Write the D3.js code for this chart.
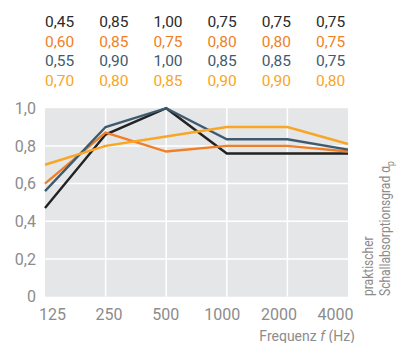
<!DOCTYPE html>
<html><head><meta charset="utf-8">
<script src="https://cdn.jsdelivr.net/npm/d3@7"></script>
<style>
html,body{margin:0;padding:0;background:#fff;}
svg{display:block;font-family:Roboto, "Liberation Sans", sans-serif;}
</style></head>
<body>
<svg id="chart" width="401" height="343"></svg>
<script>
// Data
const frequencies = ["125", "250", "500", "1000", "2000", "4000"];
const tableBlack  = ["0,45", "0,85", "1,00", "0,75", "0,75", "0,75"];
const tableOrange = ["0,60", "0,85", "0,75", "0,80", "0,80", "0,75"];
const tableBlue   = ["0,55", "0,90", "1,00", "0,85", "0,85", "0,75"];
const tableYellow = ["0,70", "0,80", "0,85", "0,90", "0,90", "0,80"];
// plotted curves
const seriesBlack  = [0.47, 0.86, 1.00, 0.76, 0.76, 0.76];
const seriesOrange = [0.60, 0.87, 0.77, 0.80, 0.80, 0.77];
const seriesBlue   = [0.56, 0.90, 1.00, 0.835, 0.835, 0.78];
const seriesYellow = [0.70, 0.80, 0.85, 0.90, 0.90, 0.81];
const yTicks = [0, 0.2, 0.4, 0.6, 0.8, 1.0];
const yTickLabels = ["0", "0,2", "0,4", "0,6", "0,8", "1,0"];

const colors = {black: "#222222", orange: "#f07f26", blue: "#3e5b6f", yellow: "#f8a623"};

const svg = d3.select("#chart");
const x = d3.scalePoint().domain(frequencies).range([45, 348]);
const xLab = d3.scalePoint().domain(frequencies).range([52.5, 335.5]);
const y = d3.scaleLinear().domain([0, 1]).range([296.7, 108.2]);

// background
svg.append("rect").attr("x", x("125")).attr("y", y(1))
  .attr("width", x("4000") - x("125")).attr("height", y(0) - y(1))
  .attr("fill", "#e5e6e8");

// gridlines
svg.append("g").selectAll("line").data(yTicks.filter(d => d > 0 && d < 1)).join("line")
  .attr("x1", x("125")).attr("x2", x("4000"))
  .attr("y1", d => y(d)).attr("y2", d => y(d))
  .attr("stroke", "#fff").attr("stroke-width", 1.5);
svg.append("g").selectAll("line").data(frequencies.slice(1, -1)).join("line")
  .attr("x1", d => x(d)).attr("x2", d => x(d))
  .attr("y1", y(0)).attr("y2", y(1))
  .attr("stroke", "#fff").attr("stroke-width", 1.5);

// y tick labels
svg.append("g").selectAll("text").data(yTicks).join("text")
  .attr("x", 36).attr("y", d => y(d)).attr("dy", "0.36em")
  .attr("text-anchor", "end").attr("fill", "#8c8c8c").attr("font-size", 16)
  .text((d, i) => yTickLabels[i]);

// x tick labels
svg.append("g").selectAll("text").data(frequencies).join("text")
  .attr("x", d => xLab(d)).attr("y", 320)
  .attr("text-anchor", "middle").attr("fill", "#8c8c8c").attr("font-size", 16)
  .text(d => d);

// x axis title
const xt = svg.append("text").attr("x", 355).attr("y", 341)
  .attr("text-anchor", "end").attr("fill", "#8c8c8c").attr("font-size", 14);
xt.append("tspan").text("Frequenz ");
xt.append("tspan").attr("font-style", "italic").text("f");
xt.append("tspan").text(" (Hz)");

// right axis title
const rt = svg.append("text").attr("transform", "translate(373,296) rotate(-90) scale(0.86,1)")
  .attr("fill", "#8c8c8c").attr("font-size", 14);
rt.append("tspan").attr("x", 0).attr("y", 0).text("praktischer");
rt.append("tspan").attr("x", 0).attr("y", 17).text("Schallabsorptionsgrad α");
rt.append("tspan").attr("dy", 4).attr("font-size", 10).text("p");

// lines
const line = d3.line().x((d, i) => x(frequencies[i])).y(d => y(d));
const series = [
  {values: seriesBlack, color: colors.black},
  {values: seriesOrange, color: colors.orange},
  {values: seriesBlue, color: colors.blue},
  {values: seriesYellow, color: colors.yellow}
];
svg.append("g").selectAll("path").data(series).join("path")
  .attr("d", d => line(d.values)).attr("fill", "none")
  .attr("stroke", d => d.color).attr("stroke-width", 2.4)
  .attr("stroke-linejoin", "miter");

// value table
const rows = [
  {vals: tableBlack, color: "#2a2a2a"},
  {vals: tableOrange, color: colors.orange},
  {vals: tableBlue, color: colors.blue},
  {vals: tableYellow, color: colors.yellow}
];
const colX = d3.scalePoint().domain(frequencies).range([45, 316]);
const rowY = d3.scalePoint().domain([0, 1, 2, 3]).range([27, 86]);
rows.forEach((r, ri) => {
  svg.append("g").selectAll("text").data(r.vals).join("text")
    .attr("x", (d, i) => colX(frequencies[i])).attr("y", rowY(ri))
    .attr("fill", r.color).attr("font-size", 15.5)
    .text(d => d);
});
</script>
</body></html>
